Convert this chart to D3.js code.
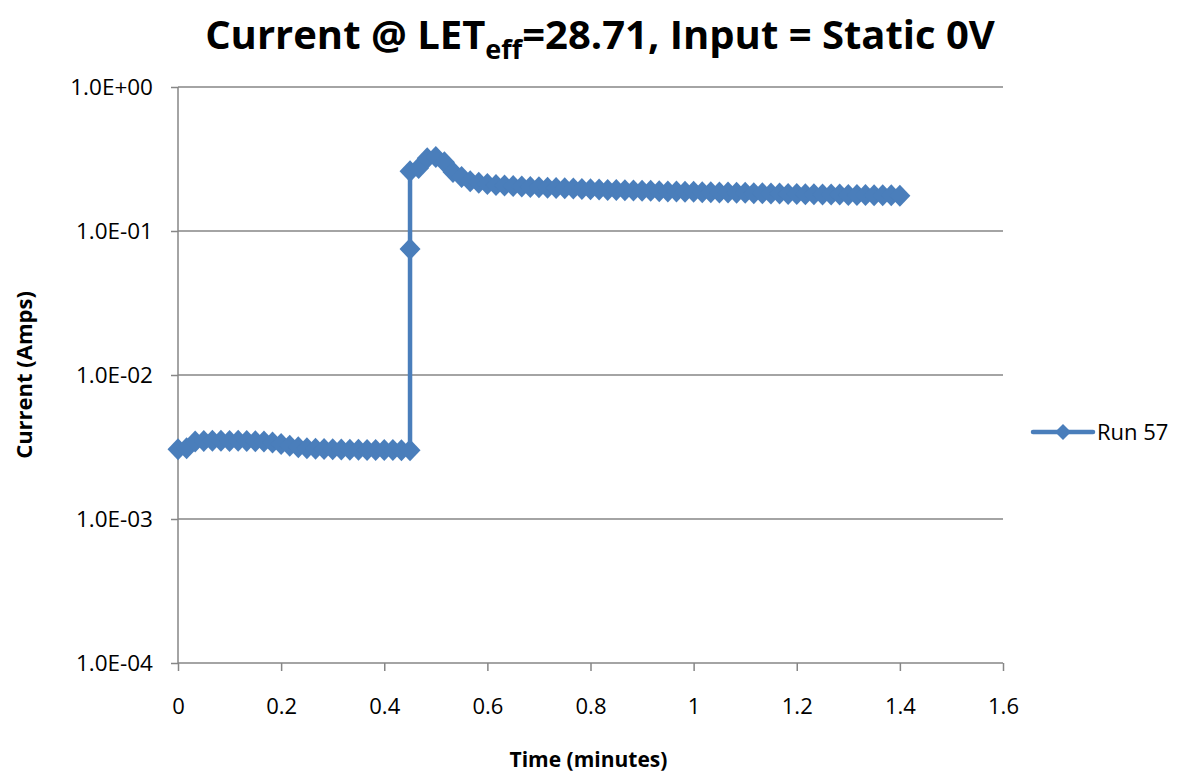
<!DOCTYPE html>
<html>
<head>
<meta charset="utf-8">
<script src="https://d3js.org/d3.v7.min.js"></script>
<style>
	body { margin: 0; background: #fff; }
	text { font-family: "Open Sans", "DejaVu Sans", sans-serif; fill: #000; }
	.grid line { stroke: #868686; stroke-width: 1.5; }
	.axis path, .axis line { stroke: #868686; stroke-width: 1.5; }
</style>
</head>
<body>
<div id="chart"></div>
<script>
// time in minutes (three samples land on 0.45 during the jump)
var timeMin = [
	0, 0.0167, 0.0333, 0.05, 0.0667, 0.0833, 0.1, 0.1167, 0.1333, 0.15,
	0.1667, 0.1833, 0.2, 0.2167, 0.2333, 0.25, 0.2667, 0.2833, 0.3, 0.3167,
	0.3333, 0.35, 0.3667, 0.3833, 0.4, 0.4167, 0.4333, 0.45, 0.45, 0.45,
	0.4667, 0.4833, 0.5, 0.5167, 0.5333, 0.55, 0.5667, 0.5833, 0.6,
	0.6167, 0.6333, 0.65, 0.6667, 0.6833, 0.7,
	0.7167, 0.7333, 0.75, 0.7667, 0.7833, 0.8,
	0.8167, 0.8333, 0.85, 0.8667, 0.8833, 0.9,
	0.9167, 0.9333, 0.95, 0.9667, 0.9833, 1.0,
	1.0167, 1.0333, 1.05, 1.0667, 1.0833, 1.1,
	1.1167, 1.1333, 1.15, 1.1667, 1.1833, 1.2,
	1.2167, 1.2333, 1.25, 1.2667, 1.2833, 1.3,
	1.3167, 1.3333, 1.35, 1.3667, 1.3833, 1.4
];
// current in amps, Run 57
var run57 = [
	3.05e-3, 3.10e-3, 3.45e-3, 3.48e-3, 3.50e-3, 3.50e-3, 3.48e-3, 3.50e-3, 3.48e-3, 3.47e-3,
	3.45e-3, 3.40e-3, 3.32e-3, 3.22e-3, 3.15e-3, 3.10e-3, 3.08e-3, 3.06e-3, 3.05e-3, 3.04e-3,
	3.03e-3, 3.03e-3, 3.02e-3, 3.02e-3, 3.01e-3, 3.01e-3, 3.00e-3, 3.00e-3, 0.075, 0.26,
	0.274, 0.320, 0.327, 0.300, 0.257, 0.237, 0.222, 0.216, 0.212,
	0.209, 0.207, 0.205, 0.204, 0.202, 0.201,
	0.200, 0.199, 0.198, 0.197, 0.196, 0.195,
	0.194, 0.193, 0.193, 0.192, 0.191, 0.190,
	0.190, 0.189, 0.188, 0.188, 0.187, 0.187,
	0.186, 0.186, 0.185, 0.185, 0.184, 0.184,
	0.183, 0.183, 0.182, 0.182, 0.181, 0.181,
	0.180, 0.180, 0.179, 0.179, 0.179, 0.178,
	0.178, 0.178, 0.177, 0.177, 0.177, 0.176
];
var xTicks = [0, 0.2, 0.4, 0.6, 0.8, 1, 1.2, 1.4, 1.6];
var yTicks = [1e-4, 1e-3, 1e-2, 1e-1, 1];
var seriesName = "Run 57";

var W = 1199, H = 774;
var margin = { top : 87, right : 196, bottom : 111, left : 178 };
var width = W - margin.left - margin.right;
var height = H - margin.top - margin.bottom;
var blue = "#4A7EBB";

var x = d3.scaleLinear().domain([ 0, 1.6 ]).range([ 0, width ]);
var y = d3.scaleLog().domain([ 1e-4, 1 ]).range([ height, 0 ]);

var fmtY = function(d) {
	var e = Math.round(Math.log10(d));
	return "1.0E" + (e < 0 ? "-" : "+") + d3.format("02d")(Math.abs(e));
};

var svg = d3.select("#chart").append("svg")
	.attr("width", W)
	.attr("height", H);

var g = svg.append("g")
	.attr("transform", "translate(" + margin.left + "," + margin.top + ")");

// horizontal gridlines
g.append("g").attr("class", "grid")
	.selectAll("line")
	.data(yTicks.slice(1))
	.enter().append("line")
	.attr("x1", 0).attr("x2", width)
	.attr("y1", function(d) { return y(d); })
	.attr("y2", function(d) { return y(d); });

var xAxis = d3.axisBottom(x).tickValues(xTicks).tickFormat(d3.format("")).tickSize(8).tickPadding(27);
var yAxis = d3.axisLeft(y).tickValues(yTicks).tickFormat(fmtY).tickSize(7).tickPadding(18);

g.append("g").attr("class", "x axis")
	.attr("transform", "translate(0," + height + ")")
	.call(xAxis)
	.selectAll("text").style("font-size", "22px");

g.append("g").attr("class", "y axis")
	.call(yAxis)
	.selectAll("text").style("font-size", "22.5px");

g.selectAll(".axis path").attr("d", null);
g.select(".x.axis").append("line").attr("x1", 0).attr("x2", width);
g.select(".y.axis").append("line").attr("y1", 0).attr("y2", height);

var pts = timeMin.map(function(t, i) { return { t : t, v : run57[i] }; });

var line = d3.line()
	.x(function(d) { return x(d.t); })
	.y(function(d) { return y(d.v); });

g.append("path")
	.datum(pts)
	.attr("d", line)
	.attr("fill", "none")
	.attr("stroke", blue)
	.attr("stroke-width", 4.5)
	.attr("stroke-linejoin", "round");

var diamond = "M0,-11L10.5,0L0,11L-10.5,0Z";

g.selectAll(".marker")
	.data(pts)
	.enter().append("path")
	.attr("class", "marker")
	.attr("d", diamond)
	.attr("fill", blue)
	.attr("transform", function(d) { return "translate(" + x(d.t) + "," + y(d.v) + ")"; });

// title
var title = svg.append("text")
	.attr("x", 600)
	.attr("y", 49)
	.attr("text-anchor", "middle")
	.style("font-size", "40px")
	.style("font-weight", "bold");
title.append("tspan").text("Current @ LET");
title.append("tspan").attr("dy", 10).style("font-size", "27px").text("eff");
title.append("tspan").attr("dy", -10).text("=28.71, Input = Static 0V");

svg.append("text")
	.attr("x", margin.left + x(0.8) - 2)
	.attr("y", 767)
	.attr("text-anchor", "middle")
	.style("font-size", "21px")
	.style("font-weight", "bold")
	.text("Time (minutes)");

svg.append("text")
	.attr("transform", "translate(32," + (margin.top + height / 2) + ") rotate(-90)")
	.attr("text-anchor", "middle")
	.style("font-size", "22px")
	.style("font-weight", "bold")
	.text("Current (Amps)");

// legend
var legend = svg.append("g")
	.attr("transform", "translate(1033,432)");
legend.append("line")
	.attr("x1", 0).attr("x2", 60)
	.attr("stroke", blue)
	.attr("stroke-width", 4.5)
	.attr("stroke-linecap", "round");
legend.append("path")
	.attr("d", "M0,-8L8,0L0,8L-8,0Z")
	.attr("fill", blue)
	.attr("transform", "translate(30,0)");
legend.append("text")
	.attr("x", 64)
	.attr("dy", "0.35em")
	.style("font-size", "22px")
	.text(seriesName);
</script>
</body>
</html>
